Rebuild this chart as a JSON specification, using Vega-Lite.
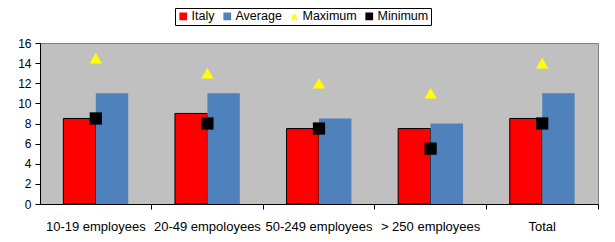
{
  "$schema": "https://vega.github.io/schema/vega-lite/v6.json",
  "width": 558,
  "height": 161,
  "autosize": {"type": "none"},
  "padding": {"left": 40, "top": 43, "right": 17, "bottom": 38},
  "background": "white",
  "config": {
    "font": "Liberation Sans",
    "view": {"fill": "#C0C0C0", "stroke": "#808080", "strokeWidth": 1},
    "axis": {"labelFont": "Liberation Sans", "labelFontSize": 13, "labelColor": "black", "domainColor": "black", "tickColor": "black", "grid": false, "title": null, "labelOverlap": false}
  },
  "data": {
    "values": [
      {"cat": "10-19  employees", "series": "Italy", "value": 8.5},
      {"cat": "10-19  employees", "series": "Average", "value": 11},
      {"cat": "10-19  employees", "series": "Maximum", "value": 14.5},
      {"cat": "10-19  employees", "series": "Minimum", "value": 8.5},
      {"cat": "20-49  empoloyees", "series": "Italy", "value": 9},
      {"cat": "20-49  empoloyees", "series": "Average", "value": 11},
      {"cat": "20-49  empoloyees", "series": "Maximum", "value": 13},
      {"cat": "20-49  empoloyees", "series": "Minimum", "value": 8},
      {"cat": "50-249  employees", "series": "Italy", "value": 7.5},
      {"cat": "50-249  employees", "series": "Average", "value": 8.5},
      {"cat": "50-249  employees", "series": "Maximum", "value": 12},
      {"cat": "50-249  employees", "series": "Minimum", "value": 7.5},
      {"cat": "> 250  employees", "series": "Italy", "value": 7.5},
      {"cat": "> 250  employees", "series": "Average", "value": 8},
      {"cat": "> 250  employees", "series": "Maximum", "value": 11},
      {"cat": "> 250  employees", "series": "Minimum", "value": 5.5},
      {"cat": "Total", "series": "Italy", "value": 8.5},
      {"cat": "Total", "series": "Average", "value": 11},
      {"cat": "Total", "series": "Maximum", "value": 14},
      {"cat": "Total", "series": "Minimum", "value": 8}
    ]
  },
  "layer": [
    {
      "transform": [{"filter": "datum.series === 'Italy' || datum.series === 'Average'"}],
      "mark": {"type": "bar", "stroke": "black"},
      "encoding": {
        "x": {"field": "cat", "type": "nominal", "sort": null,
              "scale": {"paddingInner": 0, "paddingOuter": 0},
              "axis": {"labelAngle": 0, "bandPosition": 1, "tickSize": 5, "labelPadding": 11}},
        "xOffset": {"field": "series", "type": "nominal", "sort": ["Italy", "Average"],
                    "scale": {"domain": ["Italy", "Average"], "paddingInner": 0, "paddingOuter": 0.72}},
        "y": {"field": "value", "type": "quantitative",
              "scale": {"domain": [0, 16], "nice": false},
              "axis": {"values": [0, 2, 4, 6, 8, 10, 12, 14, 16], "tickSize": 5, "labelPadding": 4, "labelOverlap": false, "labelFontSize": 12}},
        "color": {"field": "series", "type": "nominal",
                  "scale": {"domain": ["Italy", "Average", "Maximum", "Minimum"], "range": ["#FF0000", "#4F81BD", "#FFFF00", "#000000"]},
                  "legend": {"title": null, "orient": "none", "legendX": 135, "legendY": -35, "direction": "horizontal",
                             "strokeColor": "black", "fillColor": "white", "padding": 2, "symbolSize": 60, "labelFontSize": 12.5,
                             "labelOffset": 2, "columnPadding": 6, "symbolStrokeWidth": 0, "labelColor": "black"}},
        "strokeWidth": {"condition": {"test": "datum.series === 'Italy'", "value": 1}, "value": 0}
      }
    },
    {
      "transform": [{"filter": "datum.series === 'Maximum' || datum.series === 'Minimum'"}],
      "mark": {"type": "point", "filled": true, "opacity": 1, "size": 150},
      "encoding": {
        "x": {"field": "cat", "type": "nominal", "sort": null},
        "y": {"field": "value", "type": "quantitative",
              "axis": {"values": [0, 2, 4, 6, 8, 10, 12, 14, 16], "tickSize": 5, "labelPadding": 4, "labelOverlap": false, "labelFontSize": 12}},
        "color": {"field": "series", "type": "nominal"},
        "shape": {"field": "series", "type": "nominal",
                  "scale": {"domain": ["Italy", "Average", "Maximum", "Minimum"], "range": ["square", "square", "triangle-up", "square"]},
                  "legend": {"title": null}}
      }
    }
  ]
}
